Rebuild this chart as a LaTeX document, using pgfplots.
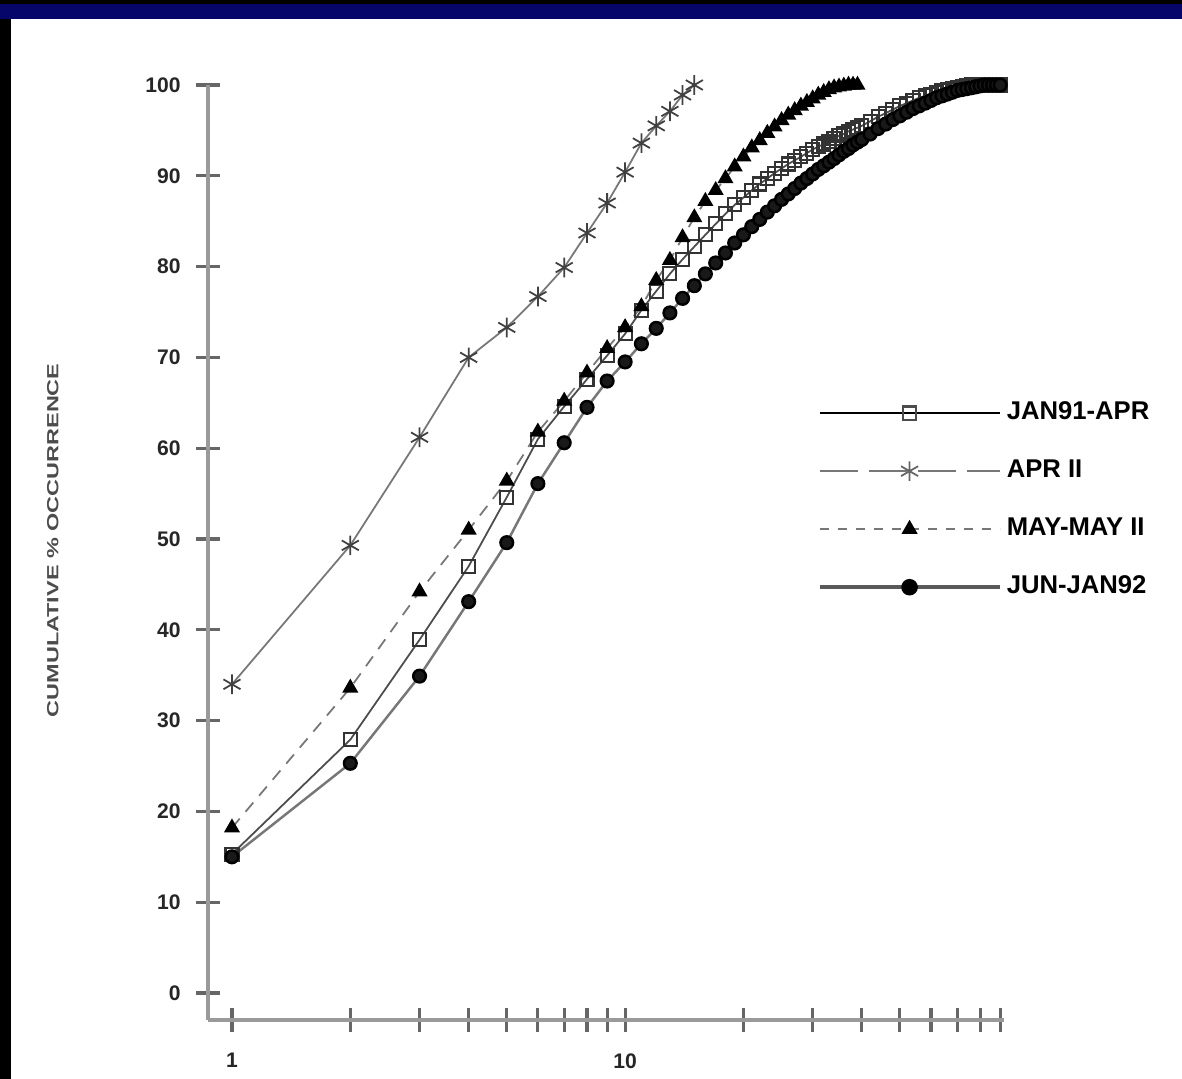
\documentclass[border=0pt]{standalone}
\usepackage{fontspec}
\setmainfont{Liberation Sans}
\usepackage{pgfplots}
\usepackage{pgfplotstable}
\pgfplotsset{compat=1.18}
\definecolor{navyband}{HTML}{06066A}
\definecolor{axgray}{HTML}{9A9A9A}
\definecolor{lngray}{HTML}{777777}

\pgfplotstableread{
x y
1 34.0
2 49.3
3 61.2
4 70.0
5 73.3
6 76.7
7 79.9
8 83.7
9 87.0
10 90.4
11 93.6
12 95.5
13 97.1
14 98.9
15 100.0
}\aprII

\pgfplotstableread{
x y
1 18.2
2 33.6
3 44.2
4 51.0
5 56.4
6 61.8
7 65.2
8 68.3
9 71.0
10 73.3
11 75.6
12 78.5
13 80.7
14 83.2
15 85.4
16 87.2
17 88.4
18 89.7
19 91.0
20 92.1
21 93.1
22 93.9
23 94.7
24 95.4
25 96.1
26 96.7
27 97.2
28 97.7
29 98.1
30 98.5
31 98.9
32 99.2
33 99.5
34 99.7
35 99.8
36 99.9
37 100
38 100
39 100
}\mayII

\pgfplotstableread{
x y
1 15.3
2 27.9
3 38.9
4 47.0
5 54.6
6 61.0
7 64.6
8 67.6
9 70.2
10 72.6
11 75.2
12 77.3
13 79.2
14 80.8
15 82.2
16 83.5
17 84.7
18 85.8
19 86.8
20 87.6
21 88.4
22 89.1
23 89.7
24 90.3
25 90.8
26 91.3
27 91.7
28 92.1
29 92.5
30 92.9
31 93.2
32 93.5
33 93.8
34 94.1
35 94.4
36 94.6
37 94.9
38 95.1
39 95.3
40 95.5
42 96.0
44 96.5
46 96.9
48 97.3
50 97.7
52 98.0
54 98.3
56 98.6
58 98.8
60 99.0
62 99.2
64 99.4
66 99.5
68 99.6
70 99.7
72 99.8
74 99.9
76 100
78 100
80 100
82 100
84 100
86 100
88 100
90 100
}\janapr

\pgfplotstableread{
x y
1 15.0
2 25.3
3 34.9
4 43.1
5 49.6
6 56.1
7 60.6
8 64.5
9 67.4
10 69.5
11 71.5
12 73.2
13 74.9
14 76.5
15 77.9
16 79.2
17 80.4
18 81.5
19 82.6
20 83.5
21 84.4
22 85.2
23 86.0
24 86.7
25 87.4
26 88.0
27 88.6
28 89.2
29 89.7
30 90.2
31 90.7
32 91.1
33 91.5
34 91.9
35 92.3
36 92.7
37 93.0
38 93.4
39 93.7
40 94.0
42 94.6
44 95.2
46 95.7
48 96.2
50 96.6
52 97.0
54 97.4
56 97.7
58 98.0
60 98.3
62 98.6
64 98.8
66 99.0
68 99.2
70 99.4
72 99.5
74 99.6
76 99.7
78 99.8
80 99.9
82 100
84 100
86 100
88 100
90 100
}\junjan

\begin{document}
\begin{tikzpicture}[x=1cm,y=1cm]
\useasboundingbox (0,0) rectangle (11.82,10.79);
\fill[white] (0,0) rectangle (11.82,10.79);
\fill[black] (0,0) rectangle (0.11,10.62);
\fill[navyband] (0,10.60) rectangle (11.82,10.79);
\fill[black] (0,10.75) rectangle (11.82,10.79);
\begin{axis}[
  at={(2.08cm,0.59cm)}, anchor=south west,
  scale only axis, width=7.96cm, height=9.35cm,
  xmode=log, xmin=0.869, xmax=92, ymin=-2.97, ymax=100,
  clip=false,
  axis x line*=bottom, axis y line*=left,
  axis line style={axgray, line width=1.1pt},
  xtick={1,10}, xticklabels={1,10},
  minor xtick={2,3,4,5,6,7,8,9,20,30,40,50,60,70,80,90},
  ytick={0,10,...,100},
  tick align=center,
  major tick length=0.24cm, minor tick length=0.24cm,
  every tick/.style={black!60, line width=0.9pt},
  /pgf/number format/assume math mode=true,
  tick label style={font=\bfseries\fontsize{6}{7}\selectfont, black!85},
  yticklabel style={xshift=-0.03cm},
  xticklabel style={yshift=-0.09cm},
  ylabel={\scalebox{1.45}[1.0]{\fontsize{4.6}{5}\selectfont\bfseries CUMULATIVE \% OCCURRENCE}},
  ylabel style={at={(axis description cs:-0.195,0.513)}, anchor=center, black!70},
  legend cell align=left,
  legend style={at={(0.765,0.556)}, anchor=west, draw=none, fill=none,
    font=\bfseries\fontsize{7.3}{8.5}\selectfont, row sep=0.245cm,
    inner sep=0pt, nodes={inner sep=1.5pt}},
  legend image code/.code={%
    \draw[mark repeat=2,mark phase=2,#1] plot coordinates {(0cm,0cm) (0.9cm,0cm) (1.8cm,0cm)};},
]
\addplot[forget plot, black!70, line width=0.5pt, mark=square, mark size=1.85pt,
  mark options={solid, draw=black!80, fill=white, line width=0.6pt}] table[x=x,y=y] {\janapr};
\addplot[forget plot, lngray, line width=0.5pt, mark=asterisk, mark size=2.8pt,
  mark options={solid, draw=black!75, line width=0.5pt}] table[x=x,y=y] {\aprII};
\addplot[forget plot, lngray, line width=0.5pt, dash pattern=on 1.2mm off 0.9mm, mark=triangle*, mark size=2.15pt,
  mark options={solid, draw=black, fill=black}] table[x=x,y=y] {\mayII};
\addplot[forget plot, lngray, line width=0.7pt, mark=*, mark size=1.8pt,
  mark options={solid, draw=black, fill=black!90}] table[x=x,y=y] {\junjan};
\addlegendimage{black, line width=0.6pt, mark=square, mark size=1.85pt,
  mark options={solid, draw=black!70, fill=white, line width=0.6pt}}
\addlegendentry{JAN91-APR}
\addlegendimage{lngray, line width=0.6pt, dash pattern=on 3.8mm off 1.1mm, mark=asterisk, mark size=2.8pt,
  mark options={solid, draw=black!60, line width=0.5pt}}
\addlegendentry{APR II}
\addlegendimage{lngray, line width=0.5pt, dash pattern=on 0.9mm off 0.9mm, mark=triangle*, mark size=2.15pt,
  mark options={solid, draw=black, fill=black}}
\addlegendentry{MAY-MAY II}
\addlegendimage{black!65, line width=1.1pt, mark=*, mark size=1.8pt,
  mark options={solid, draw=black, fill=black}}
\addlegendentry{JUN-JAN92}
\end{axis}
\end{tikzpicture}
\end{document}
